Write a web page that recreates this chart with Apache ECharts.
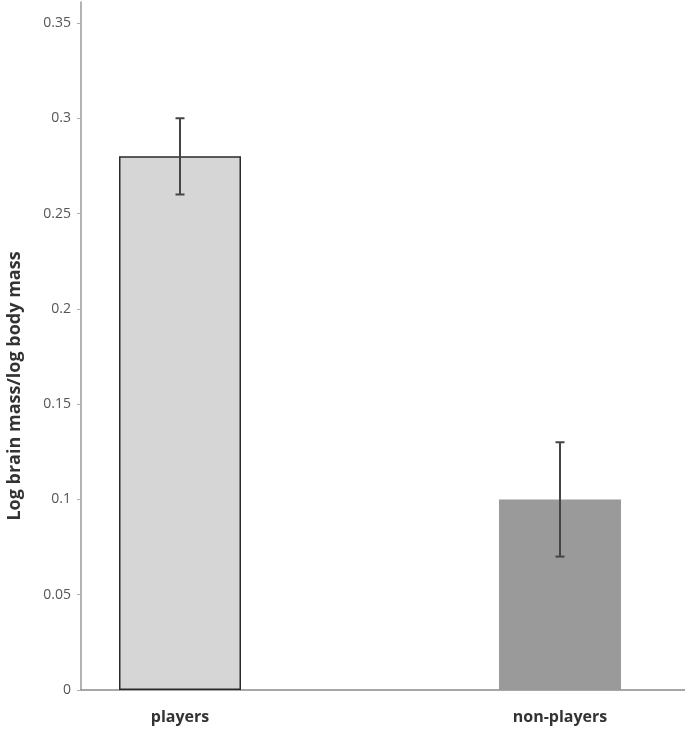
<!DOCTYPE html>
<html><head><meta charset="utf-8">
<script src="https://cdn.jsdelivr.net/npm/echarts@6/dist/echarts.min.js"></script>
<style>html,body{margin:0;padding:0;background:#fff}#c{width:685px;height:731px}</style>
</head><body><div id="c"></div>
<script>
const categories = ['players', 'non-players'];
const means = [0.28, 0.10];
const errLow = [0.26, 0.07];
const errHigh = [0.30, 0.13];
const barColors = ['#d6d6d6', '#9a9a9a'];
const barBorders = ['#2a2a2a', '#9a9a9a'];
const yTicks = [0, 0.05, 0.1, 0.15, 0.2, 0.25, 0.3, 0.35];
const yMax = 0.361;
const yTitle = 'Log brain mass/log body mass';

const chart = echarts.init(document.getElementById('c'));
const font = 'Open Sans, Liberation Sans, sans-serif';
chart.setOption({
  animation: false,
  grid: [
    {left: 81, right: 0, top: 2, bottom: 41, outerBoundsMode: 'none', containLabel: false},
    {left: -10, width: 760, top: 2, bottom: 41, outerBoundsMode: 'none', containLabel: false}
  ],
  xAxis: [
    {gridIndex: 0, type: 'category', data: categories, axisLine: {lineStyle: {color: '#8a8a8a', width: 1.5}},
     axisTick: {show: false}, axisLabel: {show: false}},
    {gridIndex: 1, type: 'category', data: categories, axisLine: {show: false}, axisTick: {show: false},
     axisLabel: {fontFamily: font, fontWeight: 'bold', fontSize: 16, color: '#333', margin: 19}}
  ],
  yAxis: [
    {gridIndex: 0, type: 'value', min: 0, max: yMax, interval: 0.05,
     axisLine: {show: true, lineStyle: {color: '#9a9a9a', width: 1.5}},
     axisTick: {show: true, length: 4, lineStyle: {color: '#b0b0b0'}},
     splitLine: {show: false},
     axisLabel: {showMaxLabel: false, fontFamily: font, fontSize: 14, color: '#555', margin: 10,
       formatter: v => yTicks.some(t => Math.abs(t - v) < 1e-9) ? String(+v.toFixed(2)) : ''}},
    {gridIndex: 1, type: 'value', min: 0, max: yMax, show: false}
  ],
  series: [
    {type: 'bar', xAxisIndex: 1, yAxisIndex: 1, barWidth: 122,
     data: means.map((v, i) => ({value: v, itemStyle: {color: barColors[i], borderColor: barBorders[i], borderWidth: i === 0 ? 1.5 : 0}}))},
    {type: 'custom', xAxisIndex: 1, yAxisIndex: 1,
     data: categories.map((c, i) => [i, errLow[i], errHigh[i]]),
     renderItem: (params, api) => {
       const lo = api.coord([api.value(0), api.value(1)]);
       const hi = api.coord([api.value(0), api.value(2)]);
       const w = 4.5;
       const st = {stroke: '#444', lineWidth: 2};
       return {type: 'group', children: [
         {type: 'line', shape: {x1: hi[0], y1: hi[1], x2: lo[0], y2: lo[1]}, style: st},
         {type: 'line', shape: {x1: hi[0] - w, y1: hi[1], x2: hi[0] + w, y2: hi[1]}, style: st},
         {type: 'line', shape: {x1: lo[0] - w, y1: lo[1], x2: lo[0] + w, y2: lo[1]}, style: st}
       ]};
     }, z: 5}
  ],
  graphic: [{type: 'text', x: 15, y: 386, rotation: Math.PI / 2,
    style: {text: yTitle, font: 'bold 18px ' + font, fill: '#333', align: 'center', verticalAlign: 'middle'}}]
});
</script></body></html>
